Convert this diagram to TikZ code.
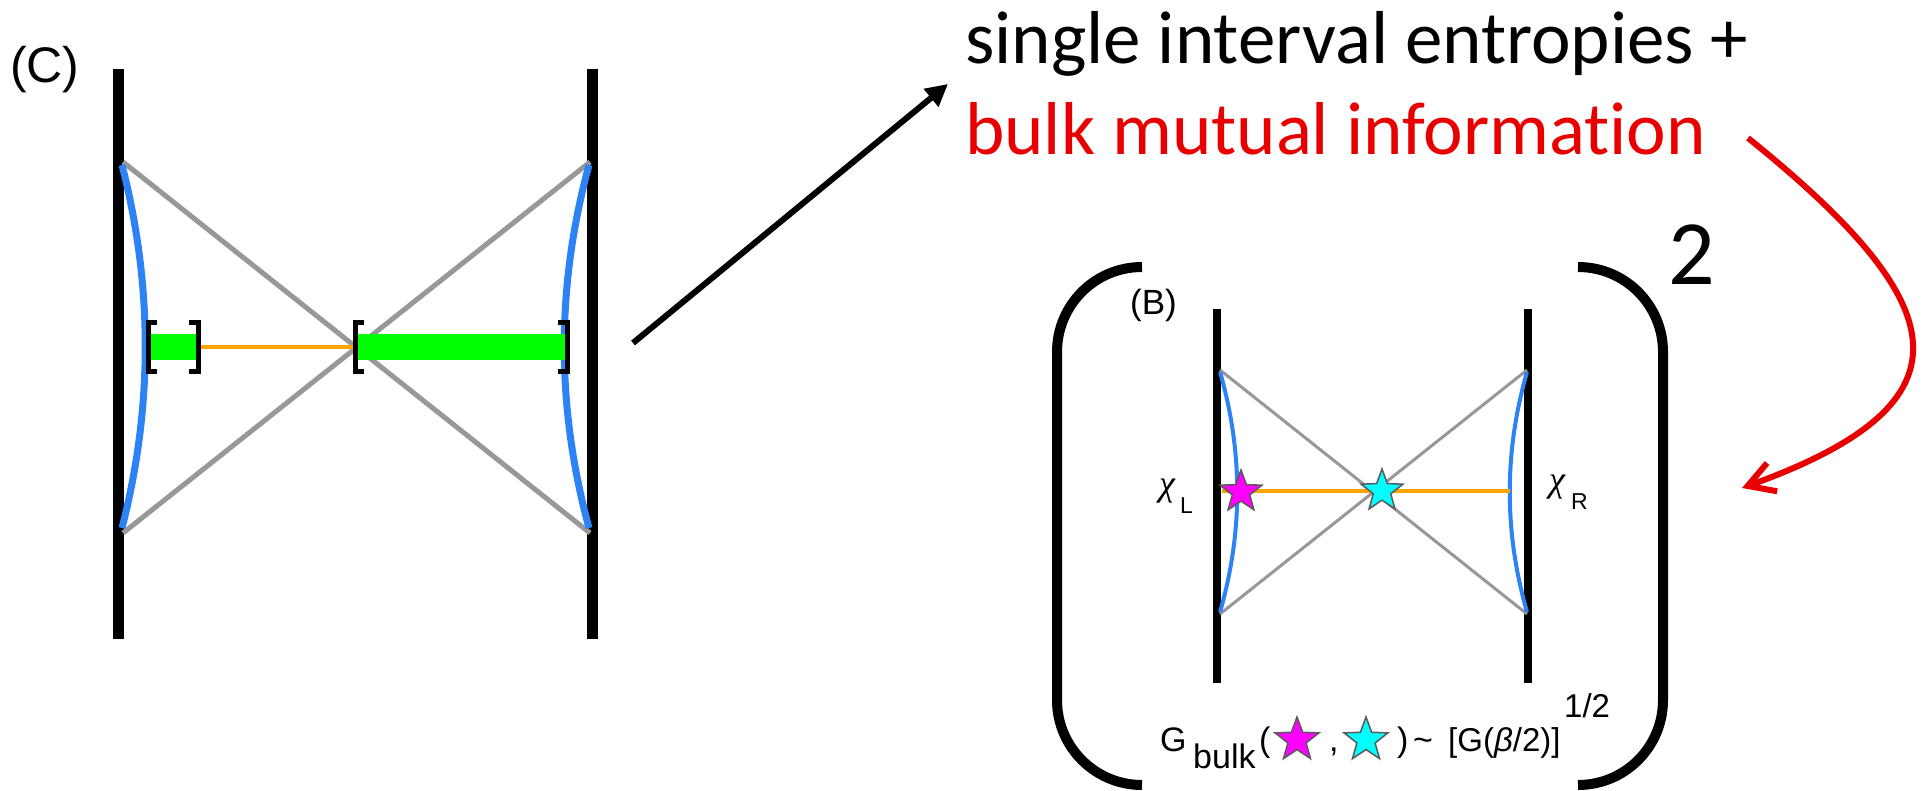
\documentclass[tikz,border=0pt]{standalone}
\usepackage{fontspec}
\setmainfont{Liberation Sans}
\newfontfamily\carlito{Carlito}[Ligatures=NoCommon]
\newfontfamily\chifont{Liberation Serif}
\usetikzlibrary{arrows.meta,shapes.geometric}
\definecolor{cblue}{RGB}{45,130,245}
\definecolor{cgray}{RGB}{152,152,152}
\definecolor{corange}{RGB}{255,165,0}
\definecolor{cgreen}{RGB}{0,255,0}
\definecolor{cred}{RGB}{232,0,0}
\definecolor{cmag}{RGB}{255,0,255}
\definecolor{ccyan}{RGB}{0,255,255}
\definecolor{cstar}{RGB}{90,90,90}
\tikzset{
  barC/.style={line width=11pt},
  barB/.style={line width=8pt},
  grayC/.style={cgray,line width=5pt},
  grayB/.style={cgray,line width=3pt},
  blueC/.style={cblue,line width=7pt},
  blueB/.style={cblue,line width=4pt},
  orangeline/.style={corange,line width=4.5pt},
  brk/.style={line width=5pt},
  paren/.style={line width=10pt},
  starnode/.style={star,star points=5,star point ratio=2.4,draw=cstar,line width=1.5pt,inner sep=0pt},
  txt/.style={inner sep=0pt,anchor=base west},
  ftxt/.style={txt,font=\fontsize{34}{38}\selectfont},
}
\begin{document}
\begin{tikzpicture}[x=1pt,y=-1pt]
\useasboundingbox[fill=white] (0,0) rectangle (1923,791);

% ---------- (C) figure ----------
\node[txt,font=\fontsize{50}{60}\selectfont] (labC) at (10,83) {(C)};
\draw[barC] (118,69) -- (118,639);
\draw[barC] (592,69) -- (592,639);
\draw[grayC] (123,162) -- (590,533);
\draw[grayC] (590,162) -- (123,533);
\draw[blueC] (122,165) .. controls (153,286) and (153,407) .. (122,528);
\draw[blueC] (589,165) .. controls (556,286) and (556,407) .. (589,528);
\fill[cgreen] (149,334) rectangle (196,360);
\fill[cgreen] (357,334) rectangle (566,360);
\draw[orangeline] (196,347) -- (357,347);
\draw[brk] (157,323) -- (148,323) -- (148,372) -- (157,372);
\draw[brk] (189,323) -- (198,323) -- (198,372) -- (189,372);
\draw[brk] (364,323) -- (355,323) -- (355,372) -- (364,372);
\draw[brk] (558,323) -- (567,323) -- (567,372) -- (558,372);

% ---------- arrow to text ----------
\coordinate (tailC) at (633,343);
\coordinate (headC) at (948,84);
\draw[line width=6pt,-{Triangle[length=22pt,width=22pt]}] (tailC) -- (headC);

% ---------- text ----------
\node[txt,font=\carlito\fontsize{75}{90}\selectfont] (line1) at (965,64) {single interval entropies +};
\node[txt,font=\carlito\fontsize{75}{90}\selectfont,text=cred] (line2) at (965,155) {bulk mutual information};

% ---------- red arrow ----------
\coordinate (redstart) at (1748,138);
\coordinate (redend) at (1742,488);
\draw[cred,line width=6pt,-{Straight Barb[length=26pt,width=30pt]}] (redstart) .. controls (1954,304) and (1981,402) .. (redend);

% ---------- big parentheses ----------
\draw[paren] (1142,267) .. controls (1095,267) and (1057,305) .. (1057,352) -- (1057,700) .. controls (1057,747) and (1095,785) .. (1142,785);
\draw[paren] (1578,267) .. controls (1625,267) and (1663,305) .. (1663,352) -- (1663,700) .. controls (1663,747) and (1625,785) .. (1578,785);
\node[txt,font=\carlito\fontsize{92}{100}\selectfont] (sq) at (1668,285) {2};

% ---------- (B) figure ----------
\node[txt,font=\fontsize{35}{40}\selectfont] (labB) at (1130,315) {(B)};
\draw[barB] (1217,309) -- (1217,683);
\draw[barB] (1528,309) -- (1528,683);
\draw[grayB] (1220,370) -- (1527,614);
\draw[grayB] (1527,370) -- (1220,614);
\draw[blueB] (1220,372) .. controls (1243,452) and (1243,532) .. (1220,612);
\draw[blueB] (1527,372) .. controls (1504,452) and (1504,532) .. (1527,612);
\draw[orangeline,line width=4pt] (1222,491) -- (1510,491);
\node[starnode,fill=cmag,minimum size=44pt] (starL) at (1241,492) {};
\node[starnode,fill=ccyan,minimum size=44pt] (starC) at (1382,491) {};
\node[txt,font=\chifont\itshape\fontsize{36}{40}\selectfont] (chiL) at (1159,495) {χ};
\node[txt,font=\fontsize{23}{26}\selectfont] (subL) at (1180,513) {L};
\node[txt,font=\chifont\itshape\fontsize{36}{40}\selectfont] (chiR) at (1549,491) {χ};
\node[txt,font=\fontsize{23}{26}\selectfont] (subR) at (1571,509) {R};

% ---------- formula ----------
\node[ftxt] (fG) at (1160,751) {G};
\node[ftxt] (fbulk) at (1193,768) {bulk};
\node[ftxt] (fopen) at (1259,751) {(};
\node[starnode,fill=cmag,minimum size=46pt] (fstarL) at (1297,740) {};
\node[ftxt] (fcomma) at (1329,751) {,};
\node[starnode,fill=ccyan,minimum size=46pt] (fstarC) at (1366,740) {};
\node[ftxt] (fclose) at (1397,751) {)};
\node[ftxt] (ftilde) at (1413,751) {\char`\~};
\node[ftxt,font=\fontsize{33}{38}\selectfont] (fG2) at (1448,751) {[G(\textit{β}/2)]};
\node[ftxt,font=\fontsize{33}{38}\selectfont] (fhalf) at (1564,717) {1/2};
\end{tikzpicture}
\end{document}
